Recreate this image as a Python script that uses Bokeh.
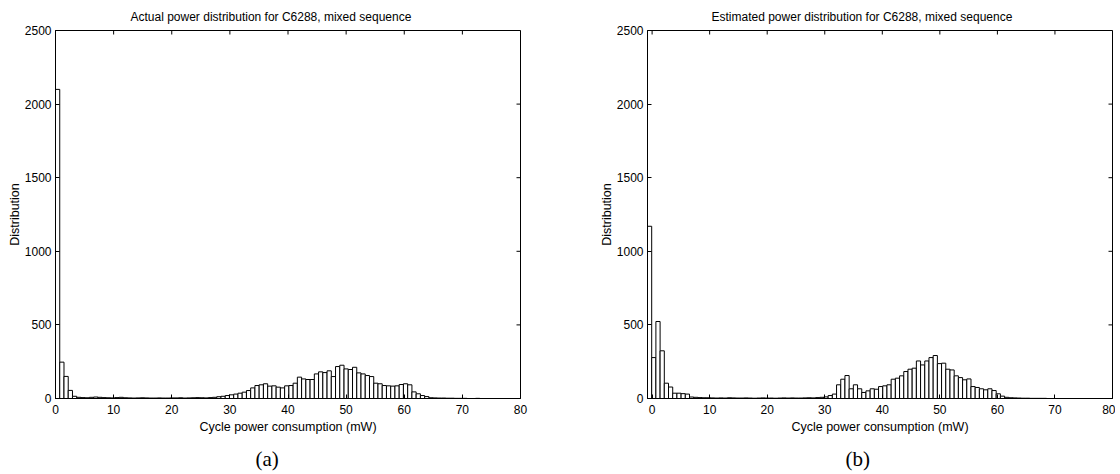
import math
from bokeh.plotting import figure
from bokeh.layouts import row
from bokeh.models import FixedTicker, Title, ColumnDataSource
from bokeh.embed import file_html
from bokeh.resources import INLINE

# ---------------- data ----------------
bin_width = 0.73

actual_start = 0.0
actual_counts = [
    2100, 247, 150, 55, 15, 8, 6, 5, 8, 10, 8, 6, 5, 4, 6, 8, 5, 4, 3, 4,
    5, 4, 3, 3, 4, 3, 3, 4, 4, 5, 3, 4, 5, 6, 5, 4, 6, 8, 12, 15,
    20, 25, 30, 36,
    43, 54, 72, 88, 93, 100, 84, 86, 77, 72, 86, 88, 104, 145, 133, 129, 129, 167, 181, 176,
    188, 149, 217, 226, 201, 197, 212, 174, 167, 156, 149, 104, 100, 88, 86, 84, 86, 95, 100, 93,
    45, 32, 20, 13,
    5, 4, 3, 3, 2, 2, 1, 1, 1, 0, 0, 1,
]

est_start = -0.8
est_counts = [
    1170, 278, 523, 324, 104, 78, 36, 36, 33, 30, 10, 8, 6, 5, 5, 4, 3, 4, 3, 5,
    4, 3, 3, 4, 3, 2, 3, 4, 3, 3, 2, 3, 4, 3, 4, 3, 3, 4, 5, 4,
    6, 8,
    11, 20, 30, 93, 131, 156, 66, 93, 66, 41, 52, 66, 63, 81, 86, 93, 131, 138, 154, 183,
    199, 206, 255, 228, 255, 278, 292, 237, 240, 199, 194, 154, 142, 127, 133, 81, 75, 66, 59, 66,
    54, 32, 16, 8, 5, 4, 3, 2,
    2, 1, 1, 1, 1, 0, 0, 0, 0, 0,
]

x_ticks = [0, 10, 20, 30, 40, 50, 60, 70, 80]
y_ticks = [0, 500, 1000, 1500, 2000, 2500]
x_max = 80
y_max = 2500

titles = [
    "Actual power distribution for C6288, mixed sequence",
    "Estimated power distribution for C6288, mixed sequence",
]
x_label = "Cycle power consumption (mW)"
y_label = "Distribution"
panel_labels = ["(a)", "(b)"]

FONT = "Liberation Sans"


def make_panel(counts, start, title, panel, x_start, border_left, border_right,
               title_offset, panel_offset):
    n = len(counts)
    left = [start + i * bin_width for i in range(n)]
    right = [l + bin_width for l in left]
    src = ColumnDataSource(dict(left=left, right=right, top=counts))

    p = figure(
        frame_width=465, frame_height=368,
        x_range=(x_start, x_max), y_range=(0, y_max),
        output_backend="svg", toolbar_location=None,
        min_border_left=border_left, min_border_right=border_right,
        min_border_top=30, min_border_bottom=76,
        background_fill_color="white", border_fill_color="white",
    )
    p.quad(left="left", right="right", top="top", bottom=0, source=src,
           fill_color="white", line_color="black", line_width=1)

    # inward tick marks on the top and right edges (box style)
    p.ray(x=x_ticks, y=[y_max] * len(x_ticks), length=4, length_units="screen",
          angle=-math.pi / 2, line_color="black", line_width=1)
    p.ray(x=[x_max] * len(y_ticks), y=y_ticks, length=4, length_units="screen",
          angle=math.pi, line_color="black", line_width=1)

    p.grid.visible = False
    p.outline_line_color = "black"
    p.outline_line_width = 1

    # title
    p.title.text = title
    p.title.align = "left"
    p.title.offset = title_offset
    p.title.text_font = FONT
    p.title.text_font_size = "12px"
    p.title.text_font_style = "normal"
    p.title.text_color = "black"
    p.title.standoff = 13

    for ax, ticks in ((p.xaxis[0], x_ticks), (p.yaxis[0], y_ticks)):
        ax.ticker = FixedTicker(ticks=ticks)
        ax.major_tick_in = 4
        ax.major_tick_out = 0
        ax.minor_tick_line_color = None
        ax.axis_line_color = "black"
        ax.major_tick_line_color = "black"
        ax.major_label_text_font = FONT
        ax.major_label_text_font_size = "12px"
        ax.major_label_text_color = "black"
        ax.axis_label_text_font = FONT
        ax.axis_label_text_font_size = "12.5px"
        ax.axis_label_text_font_style = "normal"
        ax.axis_label_text_color = "black"
    p.xaxis[0].axis_label = x_label
    p.xaxis[0].major_label_standoff = 6
    p.xaxis[0].axis_label_standoff = 3
    p.yaxis[0].axis_label = y_label
    p.yaxis[0].major_label_standoff = 4
    p.yaxis[0].axis_label_standoff = 0

    lab = Title(text=panel, align="left", offset=panel_offset,
                text_font="Liberation Serif", text_font_size="21px",
                text_font_style="normal", text_color="black", standoff=16)
    p.add_layout(lab, "below")
    return p


p1 = make_panel(actual_counts, actual_start, titles[0], panel_labels[0], 0, 55, 76, 75, 200)
p2 = make_panel(est_counts, est_start, titles[1], panel_labels[1], est_start, 48, 3, 64, 198)

layout = row(p1, p2)
open("out.html", "w").write(file_html(layout, INLINE))
